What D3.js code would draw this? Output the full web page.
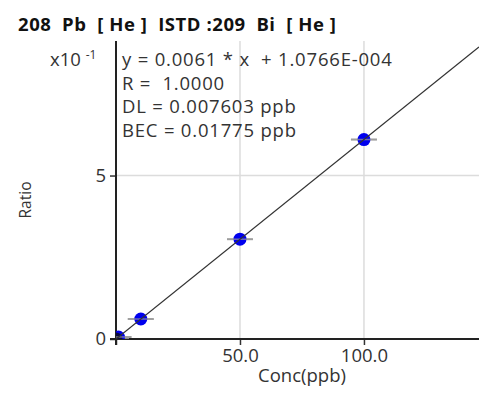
<!DOCTYPE html>
<html>
<head>
<meta charset="utf-8">
<script src="https://cdn.jsdelivr.net/npm/d3@7"></script>
<style>
  html, body { margin: 0; padding: 0; background: #fff; }
  body { width: 479px; height: 393px; overflow: hidden; font-family: "Open Sans", "Noto Sans", sans-serif; }
  text { font-family: "Open Sans", "Noto Sans", sans-serif; }
</style>
</head>
<body>
<div id="chart"></div>
<script>
// ── Data ─────────────────────────────────────────────
const conc  = [0, 1, 10, 50, 100];                       // ppb
const ratio = [0.0001, 0.0062, 0.0611, 0.3052, 0.6101];  // ratio
const slope = 0.0061;
const intercept = 1.0766e-4;

const xTicks = [0, 50, 100];
const xTickLabels = ["", "50.0", "100.0"];
const yTicks = [0, 0.5];
const yTickLabels = ["0", "5"];

const titleText = "208  Pb  [ He ]  ISTD :209  Bi  [ He ]";
const infoLines = [
  "y = 0.0061 * x  + 1.0766E-004",
  "R =  1.0000",
  "DL = 0.007603 ppb",
  "BEC = 0.01775 ppb"
];

// ── Layout ───────────────────────────────────────────
const W = 479, H = 393;
const margin = { top: 41, right: 0, bottom: 54, left: 116 };
const width  = W - margin.left - margin.right;
const height = H - margin.top - margin.bottom;
const FS = 18.5;

const svg = d3.select("#chart").append("svg")
  .attr("width", W)
  .attr("height", H);

const x = d3.scaleLinear().domain([0, 146.4]).range([0, width]);
const y = d3.scaleLinear().domain([0, 0.9115]).range([height, 0]);

const g = svg.append("g").attr("transform", `translate(${margin.left},${margin.top})`);

svg.append("defs").append("clipPath").attr("id", "plotclip")
  .append("rect").attr("x", 0).attr("y", 0).attr("width", width).attr("height", height);

// Title
svg.append("text")
  .attr("x", 18).attr("y", 31)
  .attr("font-size", 18.5).attr("font-weight", "bold")
  .attr("letter-spacing", "0.55px")
  .attr("fill", "#111")
  .attr("xml:space", "preserve")
  .style("white-space", "pre")
  .text(titleText);

// Grid
g.append("g").selectAll("line.vg")
  .data(xTicks.filter(d => d > 0)).enter().append("line")
  .attr("x1", d => x(d)).attr("x2", d => x(d))
  .attr("y1", 0).attr("y2", height)
  .attr("stroke", "#dcdcdc").attr("stroke-width", 1.5);

g.append("g").selectAll("line.hg")
  .data(yTicks.filter(d => d > 0)).enter().append("line")
  .attr("x1", 0).attr("x2", width)
  .attr("y1", d => y(d)).attr("y2", d => y(d))
  .attr("stroke", "#dcdcdc").attr("stroke-width", 1.5);

// Axes
const xAxis = g.append("g")
  .attr("transform", `translate(0,${height})`)
  .call(d3.axisBottom(x).tickValues(xTicks).tickSize(6).tickSizeOuter(0)
    .tickFormat((d, i) => xTickLabels[i]));
xAxis.select(".domain").remove();
xAxis.selectAll(".tick line").attr("stroke", "#333").attr("stroke-width", 1.5);
xAxis.selectAll(".tick text").attr("font-size", FS).attr("fill", "#333")
  .attr("y", 23).attr("dy", 0)
  .attr("font-family", "Open Sans, Noto Sans, sans-serif");

const yAxis = g.append("g")
  .call(d3.axisLeft(y).tickValues(yTicks).tickSize(6).tickSizeOuter(0)
    .tickFormat((d, i) => yTickLabels[i]));
yAxis.select(".domain").remove();
yAxis.selectAll(".tick line").attr("stroke", "#333").attr("stroke-width", 1.5);
yAxis.selectAll(".tick text").attr("font-size", FS).attr("fill", "#333")
  .attr("x", -10)
  .attr("font-family", "Open Sans, Noto Sans, sans-serif");

// axis lines
g.append("line")
  .attr("x1", -6).attr("x2", width)
  .attr("y1", height).attr("y2", height)
  .attr("stroke", "#222").attr("stroke-width", 2);
g.append("line")
  .attr("x1", 0).attr("x2", 0)
  .attr("y1", 0).attr("y2", height + 6)
  .attr("stroke", "#222").attr("stroke-width", 2);

// Axis titles
svg.append("text")
  .attr("x", 302).attr("y", 382)
  .attr("text-anchor", "middle")
  .attr("font-size", FS).attr("fill", "#333")
  .text("Conc(ppb)");

svg.append("text")
  .attr("transform", "translate(31,200) rotate(-90)")
  .attr("text-anchor", "middle")
  .attr("font-size", 15.5).attr("fill", "#333")
  .text("Ratio");

// x10^-1 multiplier
const mult = svg.append("text")
  .attr("x", 50).attr("y", 66)
  .attr("font-size", FS).attr("fill", "#333");
mult.append("tspan").text("x10 ");
mult.append("tspan").attr("font-size", 12).attr("dy", -7).text("-1");

// Plot contents (clipped)
const plot = g.append("g").attr("clip-path", "url(#plotclip)");

const xs = x.domain();

// Points with bars (blank drawn last, on top)
const pts = conc.map((c, i) => ({ c, r: ratio[i], i })).reverse();

plot.selectAll(".eb")
  .data(pts).enter().append("line")
  .attr("x1", d => x(d.c) - 13).attr("x2", d => x(d.c) + 13)
  .attr("y1", d => y(d.r)).attr("y2", d => y(d.r))
  .attr("stroke", "#9a9a9a").attr("stroke-width", 2).attr("opacity", 0.85);

plot.selectAll(".pt")
  .data(pts).enter().append("circle")
  .attr("cx", d => x(d.c)).attr("cy", d => y(d.r))
  .attr("r", 6.5)
  .attr("fill", d => d.i === 0 ? "#0a0a40" : "#0000ee");

plot.selectAll(".eb2")
  .data(pts.filter(d => d.i > 0)).enter().append("line")
  .attr("x1", d => x(d.c) - 13).attr("x2", d => x(d.c) + 13)
  .attr("y1", d => y(d.r)).attr("y2", d => y(d.r))
  .attr("stroke", "#9a9a9a").attr("stroke-width", 1.5).attr("opacity", 0.7);

// Regression line
plot.append("line")
  .attr("x1", x(xs[0])).attr("y1", y(slope * xs[0] + intercept))
  .attr("x2", x(xs[1])).attr("y2", y(slope * xs[1] + intercept))
  .attr("stroke", "#333").attr("stroke-width", 1.3);

// Info text
svg.append("g").selectAll("text")
  .data(infoLines).enter().append("text")
  .attr("x", 122)
  .attr("y", (d, i) => 66 + i * 23.5)
  .attr("font-size", FS).attr("fill", "#333")
  .attr("letter-spacing", "0.8px")
  .attr("xml:space", "preserve")
  .style("white-space", "pre")
  .text(d => d);
</script>
</body>
</html>
